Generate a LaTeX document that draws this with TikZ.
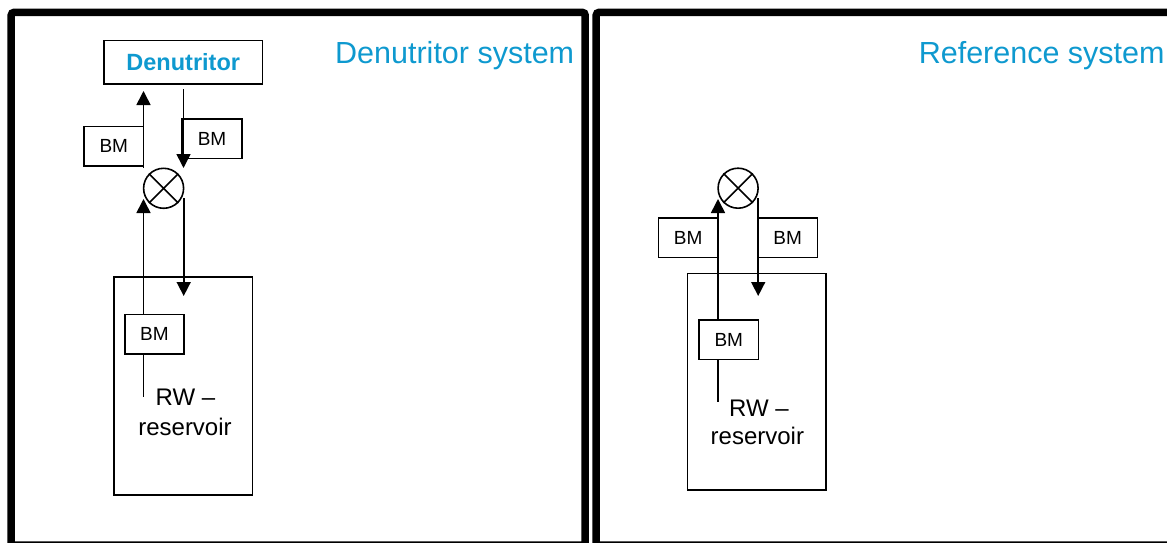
\documentclass[tikz,border=0pt]{standalone}
\usepackage{fontspec}
\setmainfont{Liberation Sans}
\usetikzlibrary{arrows.meta}
\definecolor{tblue}{RGB}{14,153,207}
\begin{document}
\begin{tikzpicture}[x=1pt,y=-1pt,
  frame/.style={draw=black, line width=7.5pt, rounded corners=3pt},
  thin/.style={line width=1.6pt},
  bmbox/.style={draw, thin, inner sep=0pt, minimum width=59.5pt, minimum height=39.5pt, font=\fontsize{19}{22}\selectfont},
  plainbox/.style={draw, thin, inner sep=0pt},
  sumnode/.style={circle, draw, thin, minimum size=40pt, inner sep=0pt},
  arr/.style={thin, -{Triangle[length=14pt,width=14pt]}},
  title/.style={anchor=base west, inner sep=0pt, text=tblue, font=\fontsize{30.5}{34}\selectfont},
  rwtext/.style={anchor=base, inner sep=0pt, font=\fontsize{24}{28}\selectfont}]
\useasboundingbox (0,0) rectangle (1167,543);
\clip (0,0) rectangle (1167,543);
% frames
\draw[frame] (11.2,12.3) rectangle (585.2,545);
\draw[frame] (596.2,12.3) rectangle (1175,545);
% titles
\node[title] (t1) at (335,63.3) {Denutritor system};
\node[title] (t2) at (918.6,63.3) {Reference system};

% ---------- left panel ----------
\node[plainbox, minimum width=158.5pt, minimum height=43.3pt, text=tblue,
      font=\bfseries\fontsize{23.5}{26}\selectfont] (den) at (183.25,62.35) {Denutritor};
\node[bmbox] (bmA) at (113.75,146.2) {BM};
\node[bmbox] (bmB) at (212,138.85) {BM};
\node[sumnode] (cxL) at (163.6,188.3) {};
\draw[thin] (cxL.north west) -- (cxL.south east) (cxL.north east) -- (cxL.south west);
\node[plainbox, minimum width=138.9pt, minimum height=218.3pt] (resL) at (183.15,385.85) {};
\node[bmbox] (bmC) at (154.45,334.15) {BM};
\node[rwtext] (rwL1) at (185.5,405.7) {RW –};
\node[rwtext] (rwL2) at (185,435) {reservoir};

\coordinate (a1s) at (143.5,168);
\coordinate (a1e) at (143.5,91);
\coordinate (a2s) at (183.5,89);
\coordinate (a2e) at (183.5,168);
\coordinate (a3s) at (143.5,314.3);
\coordinate (a3e) at (143.5,199);
\coordinate (a4s) at (183.7,198);
\coordinate (a4e) at (183.7,296);
\coordinate (l1s) at (143.5,354);
\coordinate (l1e) at (143.5,396.7);
\draw[arr] (a1s) -- (a1e);
\draw[arr] (a2s) -- (a2e);
\draw[arr] (a3s) -- (a3e);
\draw[arr] (a4s) -- (a4e);
\draw[thin] (l1s) -- (l1e);

% ---------- right panel ----------
\node[sumnode] (cxR) at (738.1,188.2) {};
\draw[thin] (cxR.north west) -- (cxR.south east) (cxR.north east) -- (cxR.south west);
\node[bmbox] (bmD) at (688.2,237.8) {BM};
\node[bmbox] (bmE) at (787.6,237.8) {BM};
\node[plainbox, minimum width=138.4pt, minimum height=216.7pt] (resR) at (756.7,381.65) {};
\node[bmbox] (bmF) at (728.75,339.65) {BM};
\node[rwtext] (rwR1) at (759,416.7) {RW –};
\node[rwtext] (rwR2) at (757.4,444) {reservoir};

\coordinate (b1s) at (718,320);
\coordinate (b1e) at (718,199);
\coordinate (b2s) at (758.2,198);
\coordinate (b2e) at (758.2,296);
\coordinate (m1s) at (718,359.3);
\coordinate (m1e) at (718,401.7);
\draw[arr] (b1s) -- (b1e);
\draw[arr] (b2s) -- (b2e);
\draw[thin] (m1s) -- (m1e);
\end{tikzpicture}
\end{document}
